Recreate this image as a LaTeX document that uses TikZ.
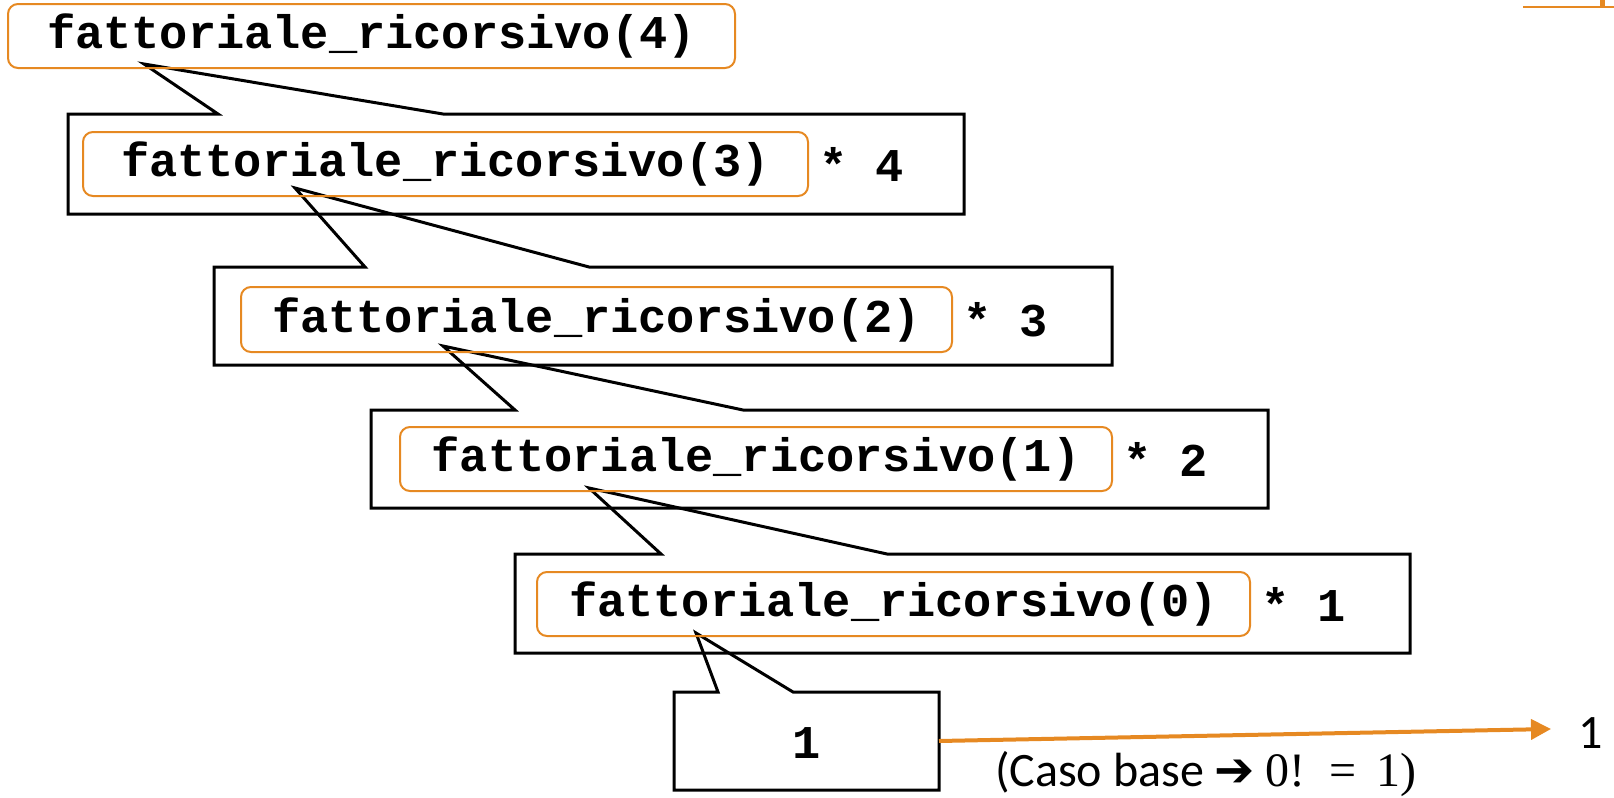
\documentclass[tikz,border=0pt]{standalone}
\usepackage{fontspec}
\setmonofont{Liberation Mono}
\newfontfamily\calib{Carlito}
\newfontfamily\dejav{DejaVu Sans}
\newfontfamily\serifm{Liberation Serif}
\usetikzlibrary{arrows.meta}
\definecolor{orng}{RGB}{230,137,34}
\tikzset{
  callbox/.style={draw=black, line width=1.5pt, line join=miter},
  fbox/.style={draw=orng, line width=1pt, rounded corners=5pt, inner sep=0pt, font=\ttfamily\bfseries\fontsize{23.5}{26}\selectfont},
  mult/.style={anchor=west, inner sep=0pt, font=\ttfamily\bfseries\fontsize{23.5}{26}\selectfont},
  code/.style={inner sep=0pt, font=\ttfamily\bfseries\fontsize{23.5}{26}\selectfont},
}
\begin{document}
\begin{tikzpicture}[x=0.5pt,y=-0.5pt]
\useasboundingbox (0,0) rectangle (1614,798);

% callout shapes (rectangle with pointer in the top edge)
\draw[callbox] (218,114) -- (144,64) -- (443,114) -- (964,114) -- (964,214) -- (68,214) -- (68,114) -- cycle;
\draw[callbox] (365,267) -- (295,188) -- (589,267) -- (1112,267) -- (1112,365) -- (214,365) -- (214,267) -- cycle;
\draw[callbox] (515,410) -- (443,346) -- (743,410) -- (1268,410) -- (1268,508) -- (371,508) -- (371,410) -- cycle;
\draw[callbox] (661,554) -- (589,488) -- (887,554) -- (1410,554) -- (1410,653) -- (515,653) -- (515,554) -- cycle;
\draw[callbox] (718,692) -- (696,633) -- (793,692) -- (939,692) -- (939,790) -- (674,790) -- (674,692) -- cycle;

% orange call boxes
\node[fbox, minimum width=363.5pt, minimum height=32pt] (f4) at (371.5,36) {fattoriale\_ricorsivo(4)};
\node[fbox, minimum width=362.5pt, minimum height=32pt] (f3) at (445.5,164) {fattoriale\_ricorsivo(3)};
\node[fbox, minimum width=355.5pt, minimum height=32.5pt] (f2) at (596.5,319.5) {fattoriale\_ricorsivo(2)};
\node[fbox, minimum width=356pt, minimum height=32pt] (f1) at (756,459) {fattoriale\_ricorsivo(1)};
\node[fbox, minimum width=356.5pt, minimum height=32pt] (f0) at (893.5,604) {fattoriale\_ricorsivo(0)};

% multipliers
\node[mult] (m4) at ([xshift=5pt]f3.east) {* 4};
\node[mult] (m3) at ([xshift=5pt]f2.east) {* 3};
\node[mult] (m2) at ([xshift=5pt]f1.east) {* 2};
\node[mult] (m1) at ([xshift=5pt]f0.east) {* 1};

% base case
\node[code] (one) at (806.5,743) {1};
\coordinate (boxR) at (939,741);
\coordinate (arrEnd) at (1551,729);
\node[inner sep=0pt, font=\calib\fontsize{24}{26}\selectfont] (res) at (1591,733) {1};
\draw[orng, line width=2pt, -{Triangle[length=10pt,width=10pt]}] (boxR) -- (arrEnd);
\node[inner sep=0pt, font=\calib\fontsize{24}{27}\selectfont] (caso) at (1206,774) {(Caso base {\dejav\bfseries ➔} {\serifm 0!\, =\, 1)}};

% fragment top right
\draw[orng, line width=1.2pt] (1523,7) -- (1614,7);
\fill[orng] (1600,0) rectangle (1605,6);
\end{tikzpicture}
\end{document}
